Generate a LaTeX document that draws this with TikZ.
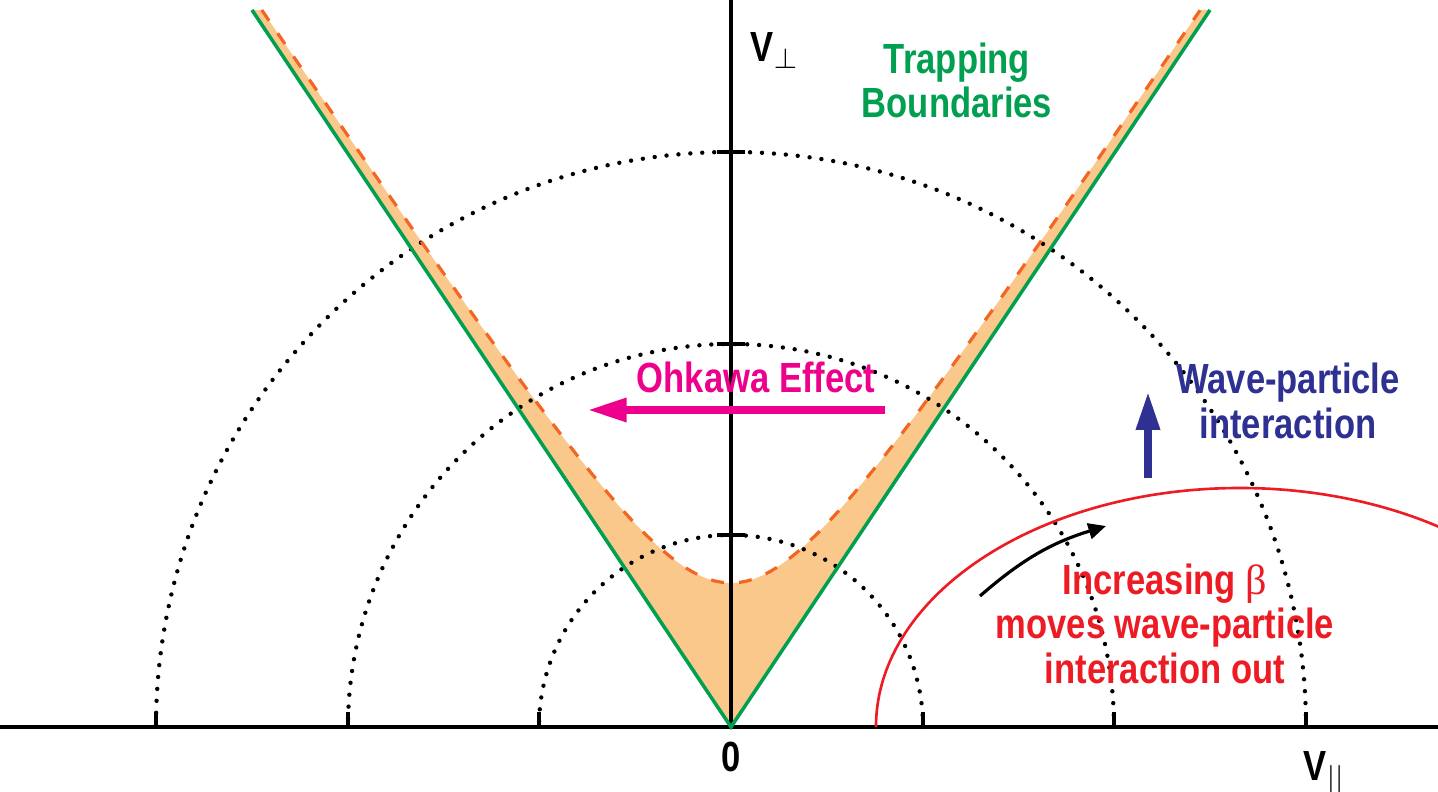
\documentclass[tikz,border=0pt]{standalone}
\usepackage{fontspec}
\usepackage{amsmath,amssymb}
\usetikzlibrary{arrows.meta,positioning}
\newfontfamily\labelfont[FakeStretch=0.82]{Liberation Sans Bold}
\newfontfamily\betafont{Liberation Serif}
\definecolor{trapgreen}{RGB}{0,160,80}
\definecolor{lossorange}{RGB}{242,101,34}
\definecolor{lossfill}{RGB}{250,200,138}
\definecolor{ohkawapink}{RGB}{236,0,140}
\definecolor{wavenavy}{RGB}{46,49,146}
\definecolor{betared}{RGB}{237,28,36}

\begin{document}
\begin{tikzpicture}[
  lbl/.style={font=\labelfont\fontsize{12}{12.6}\selectfont, inner sep=0pt, align=center},
  axisline/.style={line width=1.1pt},
  circdots/.style={line width=1.25pt, line cap=round, dash pattern=on 0pt off 3.4pt},
  trapline/.style={trapgreen, line width=1pt},
  lossedge/.style={lossorange, line width=0.9pt, dash pattern=on 3.7pt off 4.3pt}]
\useasboundingbox (-7.31,-0.64) rectangle (7.07,7.27);
% loss cone region between boundaries and hyperbola
\fill[lossfill] (-4.79,7.17) -- (0,0) -- (4.79,7.17)
  -- plot[domain=4.692:-4.692,samples=121] (\x,{sqrt(2.0736+2.241*\x*\x)}) -- cycle;
% energy circles and ticks
\foreach \r in {1.92,3.83,5.75} {
  \draw[circdots] (\r,0) arc[start angle=0,end angle=180,radius=\r];
  \draw[axisline] (\r,0) -- (\r,0.15);
  \draw[axisline] (-\r,0) -- (-\r,0.15);
  \draw[axisline] (-0.14,\r) -- (0.14,\r);
}
% axes
\draw[axisline] (-7.31,0) -- (7.07,0);
\draw[axisline] (0,0) -- (0,7.27);
% trapping boundaries
\draw[trapline] (-4.79,7.17) -- (0,0) -- (4.79,7.17);
\draw[lossedge] plot[domain=-4.692:4.692,samples=121] (\x,{sqrt(2.0736+2.241*\x*\x)});
% resonance curve
\draw[betared, line width=0.75pt] (1.45,0) arc[start angle=180,end angle=57,x radius=3.64,y radius=2.39];
% arrows
\coordinate (ohkawa tail) at (1.54,3.17);
\coordinate (ohkawa tip) at (-1.43,3.17);
\draw[ohkawapink, line width=2pt, -{Triangle[length=11pt,width=6.5pt]}] (ohkawa tail) -- (ohkawa tip);
\coordinate (wave tail) at (4.17,2.49);
\coordinate (wave tip) at (4.17,3.35);
\draw[wavenavy, line width=2pt, -{Triangle[length=10.8pt,width=6.5pt]}] (wave tail) -- (wave tip);
\coordinate (beta tail) at (2.49,1.31);
\coordinate (beta tip) at (3.75,2.01);
\draw[line width=0.9pt, -{Triangle[length=5pt,width=4.5pt]}] (beta tail) to[bend left=12] (beta tip);
% labels
\node[lbl, anchor=base west] (vperp) at (0.19,6.65) {V$_\perp$};
\node[lbl, anchor=base west] (vpar) at (5.72,-0.53) {V$_{||}$};
\node[lbl, anchor=base] (zero) at (0,-0.44) {0};
\node[lbl, anchor=base, text=trapgreen] (trapping) at (2.26,6.09) {Trapping\\Boundaries};
\node[lbl, anchor=base, text=ohkawapink] (ohkawa) at (0.25,3.34) {Ohkawa Effect};
\node[lbl, anchor=base, text=wavenavy] (wave) at (5.57,2.89) {Wave-particle\\interaction};
\node[lbl, anchor=base, text=betared] (beta) at (4.34,0.44) {Increasing {\betafont β}\\moves wave-particle\\interaction out};
\end{tikzpicture}
\end{document}
